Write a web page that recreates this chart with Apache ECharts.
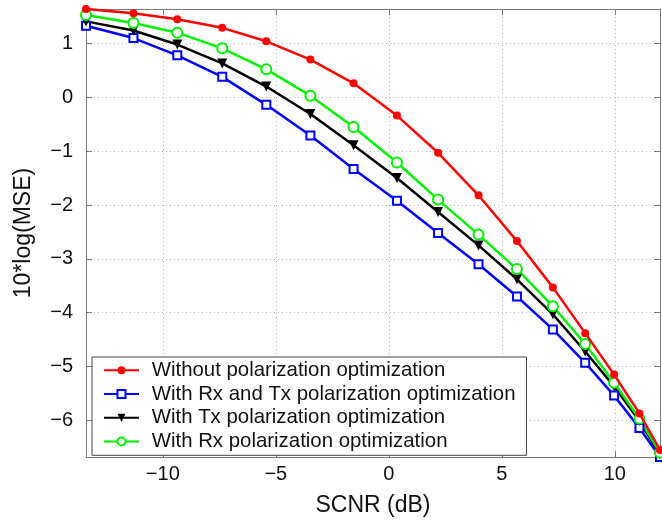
<!DOCTYPE html>
<html>
<head>
<meta charset="utf-8">
<script src="https://cdn.jsdelivr.net/npm/echarts@6/dist/echarts.min.js"></script>
<style>
html,body{margin:0;padding:0;background:#fff;}
#c{width:662px;height:522px;}
</style>
</head>
<body>
<div id="c"></div>
<script>
const scnr = [-13.4, -11.3, -9.36, -7.37, -5.42, -3.47, -1.56, 0.36, 2.18, 3.97, 5.67, 7.26, 8.69, 9.97, 11.09, 12.0];
const withoutOpt = [1.64, 1.56, 1.45, 1.29, 1.04, 0.70, 0.26, -0.34, -1.03, -1.82, -2.67, -3.53, -4.38, -5.15, -5.87, -6.55];
const rxTxOpt = [1.33, 1.10, 0.78, 0.38, -0.14, -0.71, -1.33, -1.92, -2.52, -3.10, -3.70, -4.31, -4.93, -5.54, -6.14, -6.68];
const txOpt = [1.41, 1.24, 0.98, 0.63, 0.20, -0.31, -0.89, -1.50, -2.13, -2.75, -3.38, -4.03, -4.72, -5.37, -6.01, -6.63];
const rxOpt = [1.53, 1.38, 1.20, 0.91, 0.52, 0.03, -0.55, -1.21, -1.90, -2.55, -3.19, -3.88, -4.58, -5.30, -5.97, -6.60];
const names = ['Without polarization optimization', 'With Rx and Tx polarization optimization', 'With Tx polarization optimization', 'With Rx polarization optimization'];
const xTicks = [-10, -5, 0, 5, 10];
const yTicks = [-6, -5, -4, -3, -2, -1, 0, 1];

const FONT = 'Liberation Sans';
const pair = arr => scnr.map((x, i) => [x, arr[i]]);
const fmt = v => String(v).replace('-', '\u2212');
const axisGrey = '#7a7a7a';

const chart = echarts.init(document.getElementById('c'), null, {renderer: 'canvas'});
const baseX = {
  type: 'value', min: -13.4, max: 12, splitNumber: 5,
  axisLine: {show: true, onZero: false, lineStyle: {color: axisGrey, width: 1}},
  axisTick: {show: true, inside: true, length: 6, lineStyle: {color: axisGrey}},
};
const baseY = {
  type: 'value', min: -6.68, max: 1.64, splitNumber: 8,
  axisLine: {show: true, onZero: false, lineStyle: {color: axisGrey, width: 1}},
  axisTick: {show: true, inside: true, length: 6, lineStyle: {color: axisGrey}},
};
chart.setOption({
  animation: false,
  backgroundColor: '#fff',
  grid: {left: 86, right: 2, top: 9, bottom: 61, containLabel: false},
  xAxis: [
    Object.assign({}, baseX, {
      position: 'bottom',
      name: 'SCNR (dB)', nameLocation: 'middle', nameGap: 37,
      nameTextStyle: {fontFamily: FONT, fontSize: 23, color: '#111'},
      axisLabel: {show: true, fontFamily: FONT, fontSize: 20, color: '#111', margin: 7,
        showMinLabel: false, showMaxLabel: false,
        formatter: v => xTicks.includes(v) ? fmt(v) : ''},
      splitLine: {show: true, lineStyle: {color: '#bdbdbd', type: [1, 3], width: 1}}
    }),
    Object.assign({}, baseX, {
      position: 'top', axisLabel: {show: false}, splitLine: {show: false}
    })
  ],
  yAxis: [
    Object.assign({}, baseY, {
      position: 'left',
      name: '10*log(MSE)', nameLocation: 'middle', nameGap: 51,
      nameTextStyle: {fontFamily: FONT, fontSize: 23, color: '#111'},
      axisLabel: {show: true, fontFamily: FONT, fontSize: 20, color: '#111', margin: 13,
        showMinLabel: false, showMaxLabel: false,
        formatter: v => yTicks.includes(v) ? fmt(v) : ''},
      splitLine: {show: true, lineStyle: {color: '#bdbdbd', type: [1, 3], width: 1}}
    }),
    Object.assign({}, baseY, {
      position: 'right', axisLabel: {show: false}, splitLine: {show: false}
    })
  ],
  legend: {
    orient: 'vertical', left: 92, top: 357,
    backgroundColor: '#fff', borderColor: '#444', borderWidth: 1,
    padding: [1.5, 11, 2, 11],
    itemWidth: 35, itemHeight: 10, itemGap: 0,
    textStyle: {fontFamily: FONT, fontSize: 20.4, color: '#111', lineHeight: 23.7, padding: [0, 0, 0, 7.7]},
    data: names
  },
  series: [
    {name: names[0], type: 'line', data: pair(withoutOpt), symbol: 'circle', symbolSize: 8,
     color: '#ff0000', lineStyle: {width: 2.5, color: '#ff0000'}, itemStyle: {color: '#ff0000'}, z: 4},
    {name: names[1], type: 'line', data: pair(rxTxOpt), symbol: 'emptyRect', symbolSize: 8,
     color: '#0000ff', lineStyle: {width: 2.5, color: '#0000ff'}, itemStyle: {color: '#0000ff', borderWidth: 2}, z: 3},
    {name: names[2], type: 'line', data: pair(txOpt), symbol: 'triangle', symbolRotate: 180, symbolSize: 10,
     color: '#000000', lineStyle: {width: 2.5, color: '#000000'}, itemStyle: {color: '#000000'}, z: 3},
    {name: names[3], type: 'line', data: pair(rxOpt), symbol: 'emptyCircle', symbolSize: 10,
     color: '#00f000', lineStyle: {width: 2.5, color: '#00f000'}, itemStyle: {color: '#00f000', borderWidth: 2}, z: 3}
  ]
});
</script>
</body>
</html>
